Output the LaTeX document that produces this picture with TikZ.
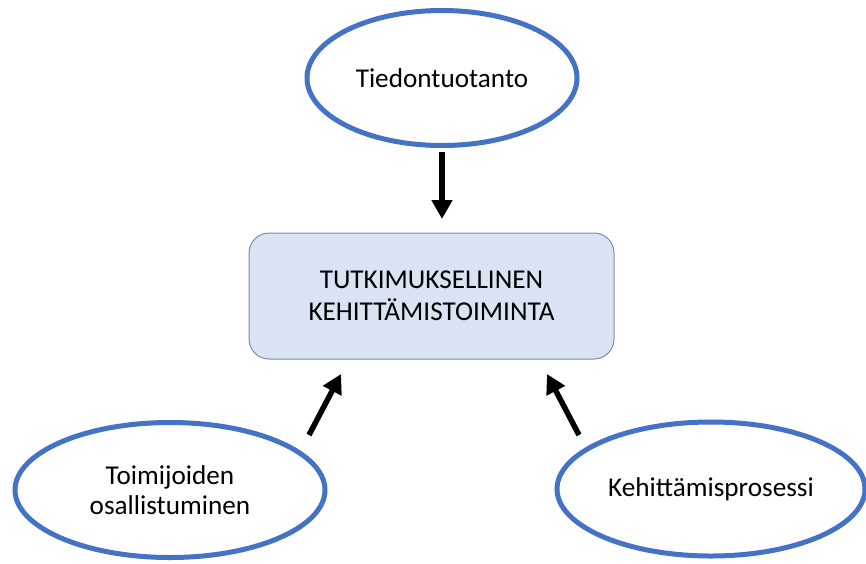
\documentclass[tikz,border=0pt]{standalone}
\usepackage{fontspec}
\setmainfont{Carlito}
\usetikzlibrary{shapes.geometric,arrows.meta}
\definecolor{ellblue}{RGB}{68,114,196}
\definecolor{boxfill}{RGB}{218,227,243}
\definecolor{boxline}{RGB}{125,140,168}
\tikzset{
  oval/.style={ellipse, draw=ellblue, line width=5pt, fill=white, inner sep=0pt,
    font=\fontsize{27.2}{30}\selectfont, align=center},
  mainbox/.style={rectangle, rounded corners=20pt, draw=boxline, line width=1pt, fill=boxfill,
    font=\fontsize{27.2}{32}\selectfont, align=center},
  arr/.style={line width=5.5pt, -{Triangle[width=20pt,length=19pt]}}
}
\begin{document}
\begin{tikzpicture}[x=1pt,y=-1pt]
\useasboundingbox (0,0) rectangle (866,563);
\fill[white] (0,0) rectangle (866,563);
\node[oval, minimum width=270pt, minimum height=135pt] (top) at (442,78) {Tiedontuotanto};
\node[mainbox, minimum width=365pt, minimum height=126pt] (box) at (431.5,296) {TUTKIMUKSELLINEN\\KEHITTÄMISTOIMINTA};
\node[oval, minimum width=310pt, minimum height=135pt] (left) at (170,490) {Toimijoiden\\osallistuminen};
\node[oval, minimum width=308pt, minimum height=134pt] (right) at (711,489) {Kehittämisprosessi};
\coordinate (t0) at (442,152);
\coordinate (t1) at (442,219);
\coordinate (l0) at (309,435);
\coordinate (l1) at (341,374);
\coordinate (r0) at (579,435);
\coordinate (r1) at (547,374);
\draw[arr] (t0) -- (t1);
\draw[arr] (l0) -- (l1);
\draw[arr] (r0) -- (r1);
\end{tikzpicture}
\end{document}
